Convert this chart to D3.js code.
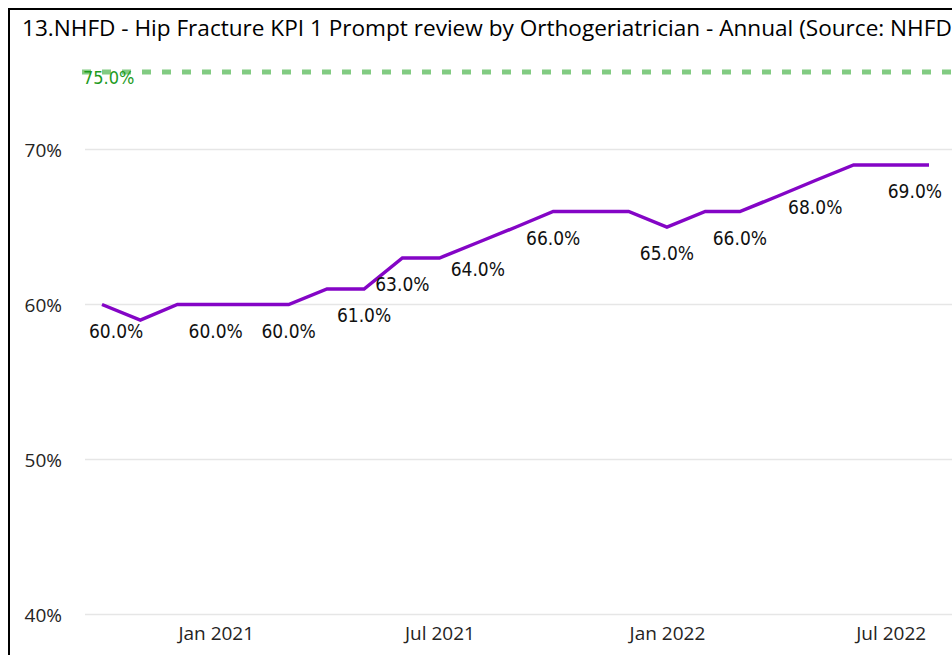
<!DOCTYPE html>
<html>
<head>
<meta charset="utf-8">
<script src="https://cdn.jsdelivr.net/npm/d3@7"></script>
<style>
    html, body { margin: 0; padding: 0; background: #ffffff; overflow: hidden; }
    svg { display: block; }
</style>
</head>
<body>
<svg id="chart"></svg>
<script>
// monthly KPI values, Oct 2020 .. Aug 2022
var months = ['2020-10','2020-11','2020-12','2021-01','2021-02','2021-03','2021-04','2021-05',
    '2021-06','2021-07','2021-08','2021-09','2021-10','2021-11','2021-12','2022-01','2022-02',
    '2022-03','2022-04','2022-05','2022-06','2022-07','2022-08'];
var kpiValues = [60, 59, 60, 60, 60, 60, 61, 61, 63, 63, 64, 65, 66, 66, 66, 65, 66, 66, 67, 68, 69, 69, 69];
// only some points get a data label
var labelledMonths = ['2020-10','2021-01','2021-03','2021-05','2021-06','2021-08','2021-10',
    '2022-01','2022-03','2022-05','2022-08'];
var targetValue = 75;
var yTicks = [40, 50, 60, 70];
var xTicks = ['2021-01','2021-07','2022-01','2022-07'];
var chartTitle = '13.NHFD - Hip Fracture KPI 1 Prompt review by Orthogeriatrician - Annual (Source: NHFD)';

var width = 952;
var height = 655;
var parseMonth = d3.timeParse('%Y-%m');
var uiFont = '"Open Sans", "Noto Sans", sans-serif';
var labelFont = '"DejaVu Sans Condensed", "DejaVu Sans", sans-serif';

var svg = d3.select('svg#chart')
    .attr('width', width)
    .attr('height', height)
    .attr('viewBox', '0 0 ' + width + ' ' + height);

svg.append('rect')
    .attr('width', width)
    .attr('height', height)
    .style('fill', '#ffffff');

// visual frame, right and bottom edges fall outside the picture
svg.append('rect')
    .attr('x', 9)
    .attr('y', 9)
    .attr('width', 1000)
    .attr('height', 1000)
    .style('fill', 'none')
    .style('stroke', '#000000')
    .style('stroke-width', 2);

var title = svg.append('text')
    .attr('x', 22)
    .attr('y', 36)
    .style('font-family', uiFont)
    .style('font-size', '21px')
    .style('fill', '#000000')
    .text(chartTitle.replace(/\)$/, ''));
// fit the title so that "...NHFD" ends at the right edge
var titleWidth = title.node().getComputedTextLength();
title.style('font-size', (21 * 930 / titleWidth) + 'px').text(chartTitle);

var x = d3.scaleTime()
    .domain([parseMonth(months[0]), parseMonth(months[months.length - 1])])
    .range([102, 929]);
var y = d3.scaleLinear()
    .domain([40, 70])
    .range([614.5, 149.5]);

var plotLeft = 85;
var plotRight = 942;

// gridlines
svg.append('g')
    .selectAll('line')
    .data(yTicks)
    .join('line')
    .attr('x1', plotLeft)
    .attr('x2', width)
    .attr('y1', function(d){ return y(d); })
    .attr('y2', function(d){ return y(d); })
    .style('stroke', '#e6e6e6')
    .style('stroke-width', 1.5);

// y axis
var yAxis = svg.append('g')
    .attr('transform', 'translate(62,0)')
    .call(d3.axisLeft(y).tickValues(yTicks).tickSize(0).tickPadding(0)
        .tickFormat(function(d){ return d + '%'; }));
yAxis.select('.domain').remove();
yAxis.selectAll('text')
    .attr('dy', '0.35em')
    .style('font-family', uiFont)
    .style('font-size', '19px')
    .style('fill', '#252423');

// x axis
var xAxis = svg.append('g')
    .attr('transform', 'translate(0,622)')
    .call(d3.axisBottom(x).tickValues(xTicks.map(parseMonth)).tickSize(0).tickPadding(0)
        .tickFormat(d3.timeFormat('%b %Y')));
xAxis.select('.domain').remove();
xAxis.selectAll('text')
    .attr('dy', '0.95em')
    .style('font-family', uiFont)
    .style('font-size', '19px')
    .style('fill', '#252423');

// target line
svg.append('line')
    .attr('x1', 82)
    .attr('x2', width)
    .attr('y1', y(targetValue))
    .attr('y2', y(targetValue))
    .style('stroke', '#6cc26c')
    .style('stroke-opacity', 0.85)
    .style('stroke-width', 5)
    .style('stroke-dasharray', '9,11');

svg.append('text')
    .attr('x', 83)
    .attr('y', y(targetValue) + 12)
    .style('font-family', labelFont)
    .style('font-size', '18px')
    .style('fill', '#1e9b1e')
    .text(targetValue.toFixed(1) + '%');

var points = months.map(function(m, i){
    return { date: parseMonth(m), key: m, value: kpiValues[i] };
});

var line = d3.line()
    .x(function(d){ return x(d.date); })
    .y(function(d){ return y(d.value); });

svg.append('path')
    .datum(points)
    .attr('d', line)
    .style('fill', 'none')
    .style('stroke', '#8405c6')
    .style('stroke-width', 3.5)
    .style('stroke-linejoin', 'miter')
    .style('stroke-linecap', 'butt');

// data labels below the points, kept inside the plot area
svg.append('g')
    .selectAll('text')
    .data(points.filter(function(d){ return labelledMonths.indexOf(d.key) >= 0; }))
    .join('text')
    .attr('y', function(d){ return y(d.value) + 33; })
    .attr('text-anchor', 'middle')
    .style('font-family', labelFont)
    .style('font-size', '19px')
    .style('fill', '#111111')
    .text(function(d){ return d.value.toFixed(1) + '%'; })
    .attr('x', function(d){
        var w = this.getComputedTextLength();
        var cx = x(d.date);
        cx = Math.max(cx, plotLeft + 4 + w / 2);
        cx = Math.min(cx, plotRight - w / 2);
        return cx;
    });
</script>
</body>
</html>
